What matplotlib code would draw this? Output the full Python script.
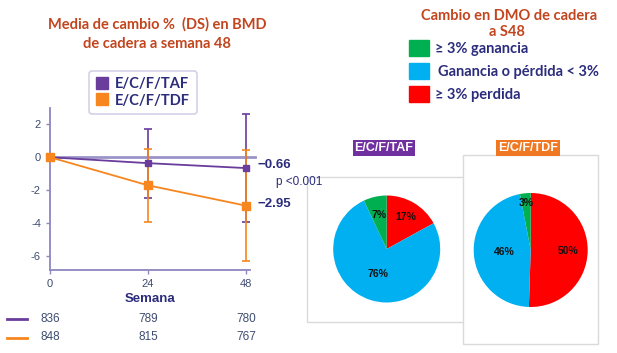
import matplotlib
matplotlib.use("Agg")
import matplotlib.pyplot as plt
from matplotlib.patches import Rectangle
from matplotlib.lines import Line2D
import matplotlib.transforms as mtransforms
import numpy as np

# ---------------- data ----------------
weeks = [0, 24, 48]
series_names = ["E/C/F/TAF", "E/C/F/TDF"]
taf_mean = [0.0, -0.36, -0.66]
taf_sd = [0.0, 2.10, 3.28]
tdf_mean = [0.0, -1.71, -2.95]
tdf_sd = [0.0, 2.23, 3.40]
taf_n = [836, 789, 780]
tdf_n = [848, 815, 767]
end_labels = ["\u22120.66", "\u22122.95"]
p_text = "p <0.001"
yticks = [2, 0, -2, -4, -6]

pie_categories = ["\u2265 3% ganancia", "Ganancia o p\u00e9rdida < 3%", "\u2265 3% perdida"]
taf_pie = [7, 76, 17]   # gain, stable, loss
tdf_pie = [3, 46, 50]

# ---------------- style ----------------
W, H = 617, 353
PURPLE = "#6A3C9C"
ORANGE = "#F7861E"
NAVY = "#2B2C7C"
TITLE_C = "#C2451E"
TICK_C = "#3E4C70"
SPINE_C = "#8E86BE"
GREEN = "#00B050"
CYAN = "#00B0F0"
RED = "#FF0000"
pie_colors = [GREEN, CYAN, RED]

TF = ["Lato", "DejaVu Sans"]
AF = ["Liberation Sans", "DejaVu Sans"]

def fx(px):
    return px / W

def fy(py):
    return 1 - py / H

fig = plt.figure(figsize=(W / 100, H / 100), dpi=100)
fig.patch.set_facecolor("white")

# ---------------- line chart ----------------
ax = fig.add_axes([fx(50), fy(270), fx(254) - fx(50), fy(108) - fy(270)])
ax.set_xlim(0, 50)
ax.set_ylim(-6.87, 3.0)
ax.axhline(0, color="#9A94C8", lw=2.0, zorder=1, xmax=1.005, clip_on=False)

for mean, sd, col, ms in [(taf_mean, taf_sd, PURPLE, 4.6), (tdf_mean, tdf_sd, ORANGE, 5.2)]:
    ax.errorbar(weeks, mean, yerr=sd, color=col, lw=1.3, elinewidth=1.2,
                capsize=2.8, capthick=1.2, marker="s", ms=ms, mec=col, mfc=col,
                errorevery=(1, 1), clip_on=False, zorder=3)

ax.set_yticks(yticks)
ax.set_yticklabels([str(v) for v in yticks])
ax.set_xticks(weeks)
ax.set_xticklabels([str(w) for w in weeks])
for s in ["top", "right"]:
    ax.spines[s].set_visible(False)
for s in ["left", "bottom"]:
    ax.spines[s].set_color(SPINE_C)
    ax.spines[s].set_linewidth(1.3)
ax.spines["bottom"].set_bounds(0, 49)
ax.tick_params(axis="both", colors=SPINE_C, labelcolor=TICK_C, labelsize=8,
               length=3, width=1)
for lab in ax.get_xticklabels() + ax.get_yticklabels():
    lab.set_fontfamily(AF)

# end labels
fig.text(fx(257), fy(165), end_labels[0], fontsize=9.5, fontweight="bold",
         color=NAVY, family=AF, va="center", ha="left")
fig.text(fx(257), fy(204), end_labels[1], fontsize=9.5, fontweight="bold",
         color=NAVY, family=AF, va="center", ha="left")
fig.text(fx(276), fy(182), p_text, fontsize=8.5, color=NAVY, family=AF,
         va="center", ha="left")

# x label and counts
trans = mtransforms.blended_transform_factory(ax.transData, fig.transFigure)
fig.text(fx(150), fy(299), "Semana", fontsize=9.5, fontweight="bold",
         color=NAVY, family=AF, ha="center", va="center")
for row, (vals, col) in enumerate([(taf_n, PURPLE), (tdf_n, ORANGE)]):
    yy = fy(319 + row * 18.5)
    fig.add_artist(Line2D([fx(7), fx(27)], [yy, yy], color=col, lw=2,
                          transform=fig.transFigure))
    for w, v in zip(weeks, vals):
        fig.text(w, yy, str(v), transform=trans, fontsize=8.5, color=TICK_C,
                 family=AF, ha="center", va="center")

# legend for line chart
handles = [Line2D([], [], ls="none", marker="s", ms=8, mfc=c, mec=c)
           for c in (PURPLE, ORANGE)]
leg = fig.legend(handles, series_names, loc="center",
                 bbox_to_anchor=(fx(143), fy(92.5)), bbox_transform=fig.transFigure,
                 frameon=True, fancybox=True, handlelength=0.8,
                 handletextpad=0.5, labelspacing=0.15, borderpad=0.45,
                 prop={"family": TF, "weight": "bold", "size": 10.5})
leg.get_frame().set_edgecolor("#C9C6E3")
leg.get_frame().set_linewidth(1.2)
for t in leg.get_texts():
    t.set_color(NAVY)

# left title
fig.text(fx(157), fy(24), "Media de cambio %  (DS) en BMD", fontsize=10.5,
         color=TITLE_C, family=TF, fontweight="bold", ha="center", va="center")
fig.text(fx(157), fy(44), "de cadera a semana 48", fontsize=10.5,
         color=TITLE_C, family=TF, fontweight="bold", ha="center", va="center")

# ---------------- right side ----------------
fig.text(fx(509), fy(16), "Cambio en DMO de cadera", fontsize=10.5,
         color=TITLE_C, family=TF, fontweight="bold", ha="center", va="center")
fig.text(fx(507), fy(32), "a S48", fontsize=10.5,
         color=TITLE_C, family=TF, fontweight="bold", ha="center", va="center")

leg_y = [48, 71, 93.5]
leg_tx = [435, 438, 435]
for cat, col, yc, tx in zip(pie_categories, pie_colors, leg_y, leg_tx):
    fig.add_artist(Rectangle((fx(409), fy(yc + 8)), fx(429) - fx(409),
                             fy(yc - 8) - fy(yc + 8), color=col,
                             transform=fig.transFigure))
    fig.text(fx(tx), fy(yc + 1), cat, fontsize=10.5, color=NAVY, family=TF,
             fontweight="bold", ha="left", va="center")

# boxes around pies
def box(x0, y0, x1, y1, z):
    fig.add_artist(Rectangle((fx(x0), fy(y1)), fx(x1) - fx(x0), fy(y0) - fy(y1),
                             facecolor="white", edgecolor="#DADADA", lw=1,
                             transform=fig.transFigure, zorder=z))

box(307, 177, 464, 322, 0.5)
box(463, 155, 598, 344, 0.6)

# header tags
def tag(cx, cy, text, col):
    fig.text(fx(cx), fy(cy), text, fontsize=9, fontweight="bold", color="white",
             family=AF, ha="center", va="center", zorder=5,
             bbox=dict(boxstyle="square,pad=0.14", facecolor=col, edgecolor="none"))

tag(384, 148, series_names[0], "#7030A0")
tag(528, 148, series_names[1], "#F07822")

def draw_pie(cx, cy, r, vals, dists):
    pax = fig.add_axes([fx(cx - r), fy(cy + r), fx(2 * r), fy(0) - fy(2 * r)])
    pax.set_zorder(2)
    vals_ordered = [vals[2], vals[1], vals[0]]   # loss, stable, gain (clockwise)
    cols = [pie_colors[2], pie_colors[1], pie_colors[0]]
    wedges, _ = pax.pie(vals_ordered, colors=cols, startangle=90,
                        counterclock=False, radius=1,
                        wedgeprops=dict(linewidth=0))
    for wdg, v, d in zip(wedges, vals_ordered, dists):
        ang = np.deg2rad((wdg.theta1 + wdg.theta2) / 2)
        pax.text(d * np.cos(ang), d * np.sin(ang), f"{v}%", ha="center",
                 va="center", fontsize=7.5, fontweight="bold", color="#111111",
                 family=AF)
    pax.set_xlim(-1, 1)
    pax.set_ylim(-1, 1)
    pax.set_aspect("equal")
    pax.axis("off")

draw_pie(386.7, 249, 53.5, taf_pie, [0.7, 0.5, 0.65])
draw_pie(530.7, 250, 57, tdf_pie, [0.66, 0.46, 0.82])

fig.savefig("out.png", dpi=100, facecolor="white")
